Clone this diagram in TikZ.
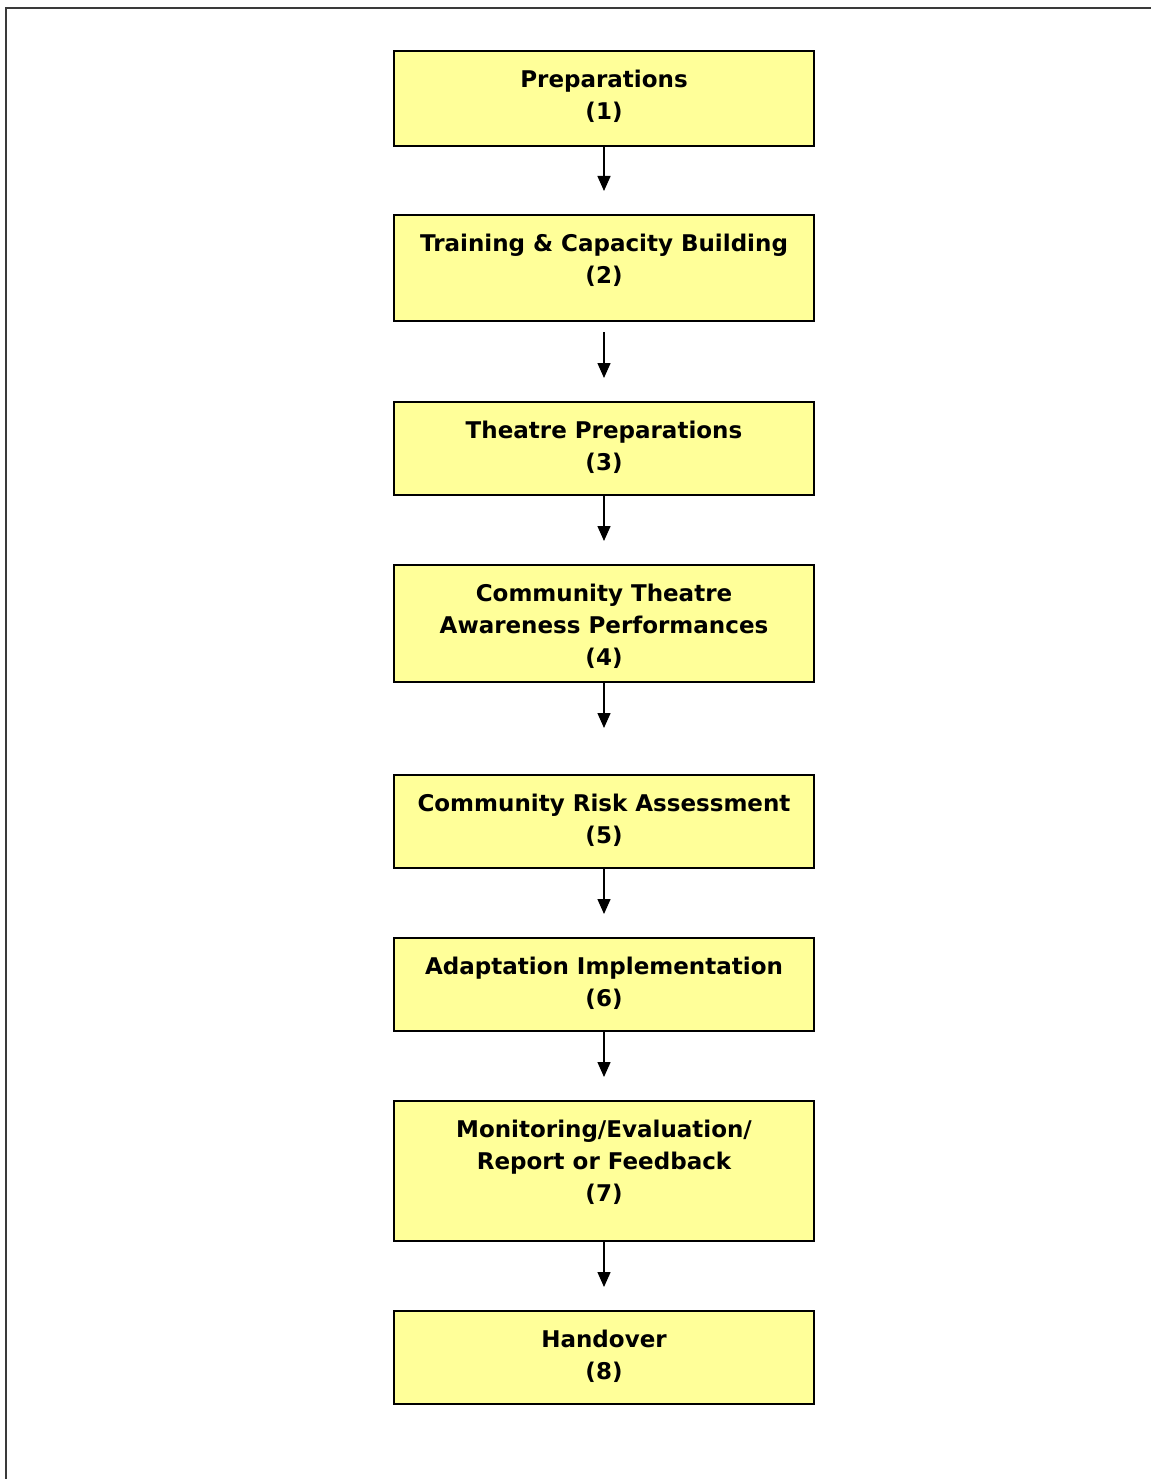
\documentclass[tikz,border=0pt]{standalone}
\usepackage{fontspec}
\setmainfont{DejaVu Sans}
\usetikzlibrary{arrows.meta}
\definecolor{boxfill}{HTML}{FFFF99}
\definecolor{framecol}{HTML}{3A3A3A}
\begin{document}
\begin{tikzpicture}[x=1pt,y=-1pt,
  stepbox/.style={draw=black,line width=1.4pt,fill=boxfill,minimum width=420pt,inner sep=0pt},
  steptext/.style={anchor=north,inner sep=0pt,align=center,font=\fontsize{23}{32}\selectfont\bfseries},
  flow/.style={line width=1.4pt,-{Triangle[width=13pt,length=15pt]}}]
\useasboundingbox (0,0) rectangle (1151,1479);
\draw[framecol,line width=2pt] (6,1479) -- (6,8) -- (1151,8);
% boxes
\node[stepbox,minimum height=95pt] (b1) at (604,98.5) {};
\node[stepbox,minimum height=106pt] (b2) at (604,268) {};
\node[stepbox,minimum height=93pt] (b3) at (604,448.5) {};
\node[stepbox,minimum height=117pt] (b4) at (604,623.5) {};
\node[stepbox,minimum height=93pt] (b5) at (604,821.5) {};
\node[stepbox,minimum height=93pt] (b6) at (604,984.5) {};
\node[stepbox,minimum height=140pt] (b7) at (604,1171) {};
\node[stepbox,minimum height=93pt] (b8) at (604,1357.5) {};
% texts
\node[steptext] (t1) at (604,70) {Preparations\\(1)};
\node[steptext] (t2) at (604,234) {Training \& Capacity Building\\(2)};
\node[steptext] (t3) at (604,421) {Theatre Preparations\\(3)};
\node[steptext] (t4) at (604,584) {Community Theatre\\Awareness Performances\\(4)};
\node[steptext] (t5) at (604,794) {Community Risk Assessment\\(5)};
\node[steptext] (t6) at (604,957) {Adaptation Implementation\\(6)};
\node[steptext] (t7) at (604,1120) {Monitoring/Evaluation/\\Report or Feedback\\(7)};
\node[steptext] (t8) at (604,1330) {Handover\\(8)};
% arrow ends
\coordinate (e1) at (604,191);
\coordinate (s2) at (604,332);
\coordinate (e2) at (604,378);
\coordinate (e3) at (604,541);
\coordinate (e4) at (604,728);
\coordinate (e5) at (604,914);
\coordinate (e6) at (604,1077);
\coordinate (e7) at (604,1287);
\draw[flow] (b1.south) -- (e1);
\draw[flow] (s2) -- (e2);
\draw[flow] (b3.south) -- (e3);
\draw[flow] (b4.south) -- (e4);
\draw[flow] (b5.south) -- (e5);
\draw[flow] (b6.south) -- (e6);
\draw[flow] (b7.south) -- (e7);
\end{tikzpicture}
\end{document}
